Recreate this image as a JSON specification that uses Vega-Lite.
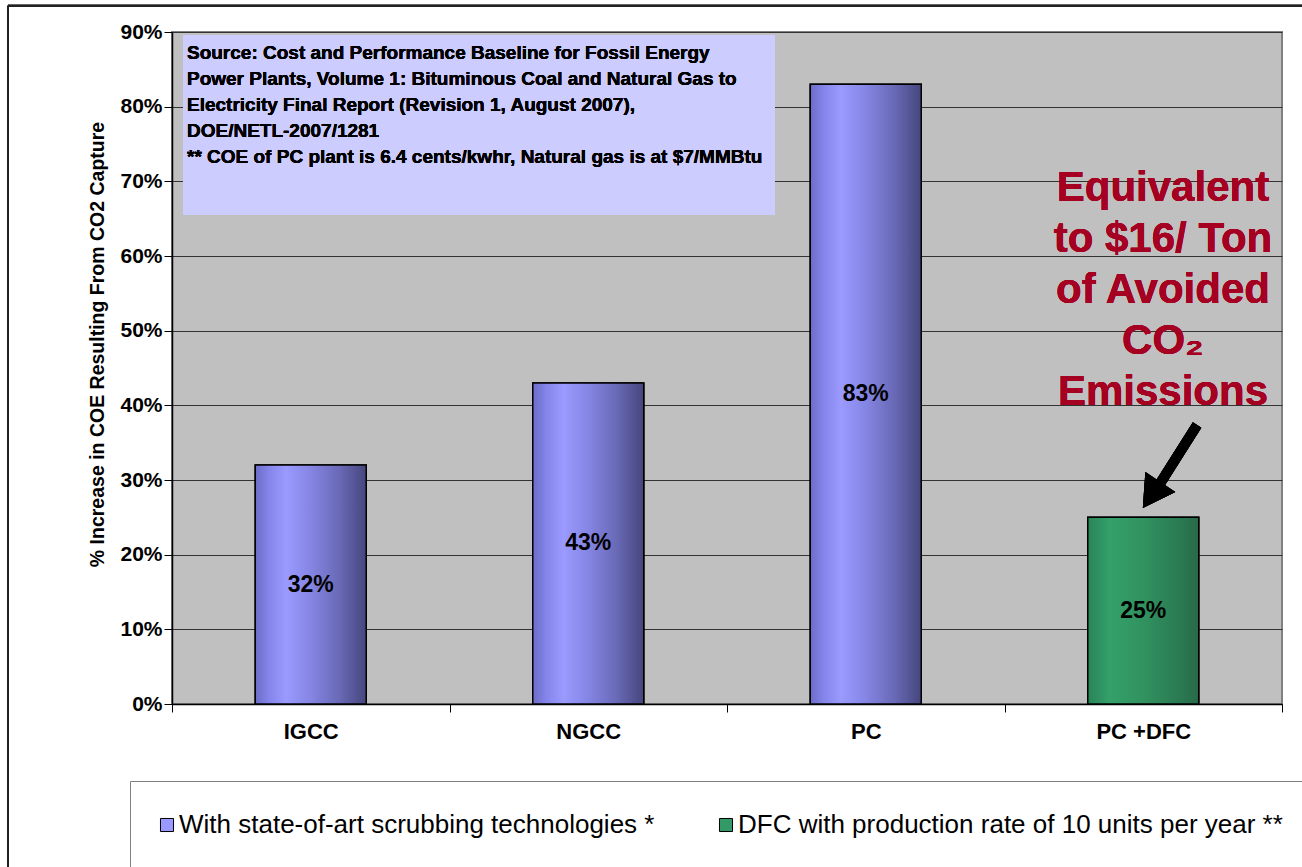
{
  "$schema": "https://vega.github.io/schema/vega-lite/v6.json",
  "width": 1110,
  "height": 672,
  "autosize": "none",
  "padding": {"left": 172, "top": 32, "right": 20, "bottom": 163},
  "background": "white",
  "config": {
    "font": "Liberation Sans",
    "view": {"stroke": "#808080", "strokeWidth": 2, "fill": "#c0c0c0"}
  },
  "data": {
    "values": [
      {"tech": "IGCC", "value": 0.32, "series": "With state-of-art scrubbing technologies *"},
      {"tech": "NGCC", "value": 0.43, "series": "With state-of-art scrubbing technologies *"},
      {"tech": "PC", "value": 0.83, "series": "With state-of-art scrubbing technologies *"},
      {"tech": "PC +DFC", "value": 0.25, "series": "DFC with production rate of 10 units per year **"}
    ]
  },
  "resolve": {"scale": {"x": "independent", "y": "independent"}},
  "layer": [
    {
      "mark": {"type": "rule", "color": "#222", "strokeWidth": 2},
      "encoding": {
        "x": {"datum": -0.591, "type": "quantitative", "scale": {"domain": [0, 4], "nice": false, "zero": false}, "axis": null},
        "x2": {"datum": 4.1},
        "y": {"datum": 0.935, "type": "quantitative", "scale": {"domain": [0, 0.9], "nice": false, "zero": false}, "axis": null}
      }
    },
    {
      "mark": {"type": "rule", "color": "#222", "strokeWidth": 2},
      "encoding": {
        "x": {"datum": -0.591, "type": "quantitative", "scale": {"domain": [0, 4], "nice": false, "zero": false}, "axis": null},
        "y": {"datum": 0.935, "type": "quantitative", "scale": {"domain": [0, 0.9], "nice": false, "zero": false}, "axis": null},
        "y2": {"datum": -0.22}
      }
    },
    {
      "mark": {"type": "bar", "stroke": "black", "strokeWidth": 1.5, "width": {"band": 0.4}},
      "encoding": {
        "x": {
          "field": "tech", "type": "nominal",
          "scale": {"domain": ["IGCC", "NGCC", "PC", "PC +DFC"], "paddingInner": 0, "paddingOuter": 0},
          "axis": {
            "title": null, "labelAngle": 0, "labelFont": "Liberation Sans", "labelFontWeight": "bold",
            "labelFontSize": 22, "labelColor": "black", "labelPadding": 9, "tickBand": "extent",
            "tickColor": "black", "tickSize": 8, "domainColor": "black", "domainWidth": 1.5, "grid": false
          }
        },
        "y": {
          "field": "value", "type": "quantitative",
          "scale": {"domain": [0, 0.9], "nice": false},
          "axis": {
            "values": [0, 0.1, 0.2, 0.3, 0.4, 0.5, 0.6, 0.7, 0.8, 0.9],
            "format": ".0%", "grid": true, "gridColor": "#333333", "gridWidth": 1,
            "domainColor": "black", "domainWidth": 1.5, "tickColor": "black", "tickSize": 8,
            "labelFont": "Liberation Sans", "labelFontWeight": "bold", "labelFontSize": 21,
            "labelColor": "black", "labelPadding": 2,
            "title": "% Increase in COE Resulting From CO2 Capture",
            "titleFont": "Liberation Sans", "titleFontWeight": "bold", "titleFontSize": 19.5,
            "titleColor": "black", "titlePadding": 12, "titleY": 312
          }
        },
        "color": {
          "field": "series", "type": "nominal",
          "scale": {
            "domain": ["With state-of-art scrubbing technologies *", "DFC with production rate of 10 units per year **"],
            "range": ["#9999ff", "#339966"]
          },
          "legend": {
            "title": null, "orient": "none", "legendX": -42, "legendY": 749, "direction": "horizontal",
            "strokeColor": "#808080", "fillColor": "white", "padding": 31,
            "symbolType": "square", "symbolSize": 170, "symbolStrokeColor": "black", "symbolStrokeWidth": 1,
            "symbolOpacity": 1, "symbolOffset": -7,
            "labelFont": "Liberation Sans", "labelFontSize": 26, "labelColor": "black", "labelLimit": 800,
            "labelOffset": -1, "columnPadding": 62
          }
        }
      }
    },
    {
      "transform": [{"filter": "datum.tech !== 'PC +DFC'"}],
      "mark": {
        "type": "bar", "stroke": "black", "strokeWidth": 1.5, "width": {"band": 0.4},
        "fill": {
          "gradient": "linear", "x1": 0, "x2": 1, "y1": 0, "y2": 0,
          "stops": [
            {"offset": 0, "color": "#6c6cc8"},
            {"offset": 0.12, "color": "#8484ea"},
            {"offset": 0.28, "color": "#9a9aff"},
            {"offset": 0.5, "color": "#8585e4"},
            {"offset": 0.75, "color": "#6a6ab8"},
            {"offset": 1, "color": "#46467e"}
          ]
        }
      },
      "encoding": {
        "x": {"field": "tech", "type": "nominal", "scale": {"domain": ["IGCC", "NGCC", "PC", "PC +DFC"], "paddingInner": 0, "paddingOuter": 0}, "axis": null},
        "y": {"field": "value", "type": "quantitative", "scale": {"domain": [0, 0.9], "nice": false}, "axis": null}
      }
    },
    {
      "transform": [{"filter": "datum.tech === 'PC +DFC'"}],
      "mark": {
        "type": "bar", "stroke": "black", "strokeWidth": 1.5, "width": {"band": 0.4},
        "fill": {
          "gradient": "linear", "x1": 0, "x2": 1, "y1": 0, "y2": 0,
          "stops": [
            {"offset": 0, "color": "#2a8456"},
            {"offset": 0.2, "color": "#34a06a"},
            {"offset": 0.5, "color": "#31925f"},
            {"offset": 0.8, "color": "#2b7c53"},
            {"offset": 1, "color": "#286a48"}
          ]
        }
      },
      "encoding": {
        "x": {"field": "tech", "type": "nominal", "scale": {"domain": ["IGCC", "NGCC", "PC", "PC +DFC"], "paddingInner": 0, "paddingOuter": 0}, "axis": null},
        "y": {"field": "value", "type": "quantitative", "scale": {"domain": [0, 0.9], "nice": false}, "axis": null}
      }
    },
    {
      "mark": {"type": "text", "font": "Liberation Sans", "fontWeight": "bold", "fontSize": 23, "color": "black", "baseline": "middle", "align": "center"},
      "encoding": {
        "x": {"field": "tech", "type": "nominal", "scale": {"domain": ["IGCC", "NGCC", "PC", "PC +DFC"], "paddingInner": 0, "paddingOuter": 0}, "axis": null},
        "y": {"field": "value", "type": "quantitative", "scale": {"domain": [0, 1.8], "nice": false}, "axis": null},
        "text": {"field": "value", "type": "quantitative", "format": ".0%"}
      }
    },
    {
      "mark": {"type": "rect", "fill": "#ccccff", "stroke": null},
      "encoding": {
        "x": {"datum": 0.04, "type": "quantitative", "scale": {"domain": [0, 4], "nice": false, "zero": false}, "axis": null},
        "x2": {"datum": 2.173},
        "y": {"datum": 0.896, "type": "quantitative", "scale": {"domain": [0, 0.9], "nice": false, "zero": false}, "axis": null},
        "y2": {"datum": 0.655}
      }
    },
    {
      "mark": {
        "type": "text", "font": "Liberation Sans", "fontWeight": "bold", "fontSize": 19, "color": "black",
        "align": "left", "baseline": "top", "lineHeight": 26,
        "text": [
          " Source: Cost and Performance Baseline for Fossil Energy",
          "Power Plants, Volume 1: Bituminous Coal and Natural Gas to",
          "Electricity Final Report (Revision 1, August 2007),",
          " DOE/NETL-2007/1281",
          "** COE of PC plant is 6.4 cents/kwhr, Natural gas is at $7/MMBtu"
        ]
      },
      "encoding": {
        "x": {"datum": 0.054, "type": "quantitative", "scale": {"domain": [0, 4], "nice": false, "zero": false}, "axis": null},
        "y": {"datum": 0.884, "type": "quantitative", "scale": {"domain": [0, 0.9], "nice": false, "zero": false}, "axis": null}
      }
    },
    {
      "mark": {
        "type": "text", "font": "Liberation Sans", "fontWeight": "bold", "fontSize": 42, "color": "#a50021",
        "align": "center", "baseline": "top", "lineHeight": 51,
        "text": ["Equivalent", "to $16/ Ton", "of Avoided", "CO\u2082", "Emissions"]
      },
      "encoding": {
        "x": {"datum": 3.571, "type": "quantitative", "scale": {"domain": [0, 4], "nice": false, "zero": false}, "axis": null},
        "y": {"datum": 0.718, "type": "quantitative", "scale": {"domain": [0, 0.9], "nice": false, "zero": false}, "axis": null}
      }
    },
    {
      "mark": {"type": "rule", "color": "black", "strokeWidth": 10, "strokeCap": "butt"},
      "encoding": {
        "x": {"datum": 3.694, "type": "quantitative", "scale": {"domain": [0, 4], "nice": false, "zero": false}, "axis": null},
        "x2": {"datum": 3.56},
        "y": {"datum": 0.3737, "type": "quantitative", "scale": {"domain": [0, 0.9], "nice": false, "zero": false}, "axis": null},
        "y2": {"datum": 0.295}
      }
    },
    {
      "mark": {"type": "point", "shape": "triangle-up", "filled": true, "color": "black", "opacity": 1, "size": 1300, "angle": 214},
      "encoding": {
        "x": {"datum": 3.530, "type": "quantitative", "scale": {"domain": [0, 4], "nice": false, "zero": false}, "axis": null},
        "y": {"datum": 0.280, "type": "quantitative", "scale": {"domain": [0, 0.9], "nice": false, "zero": false}, "axis": null}
      }
    }
  ]
}
